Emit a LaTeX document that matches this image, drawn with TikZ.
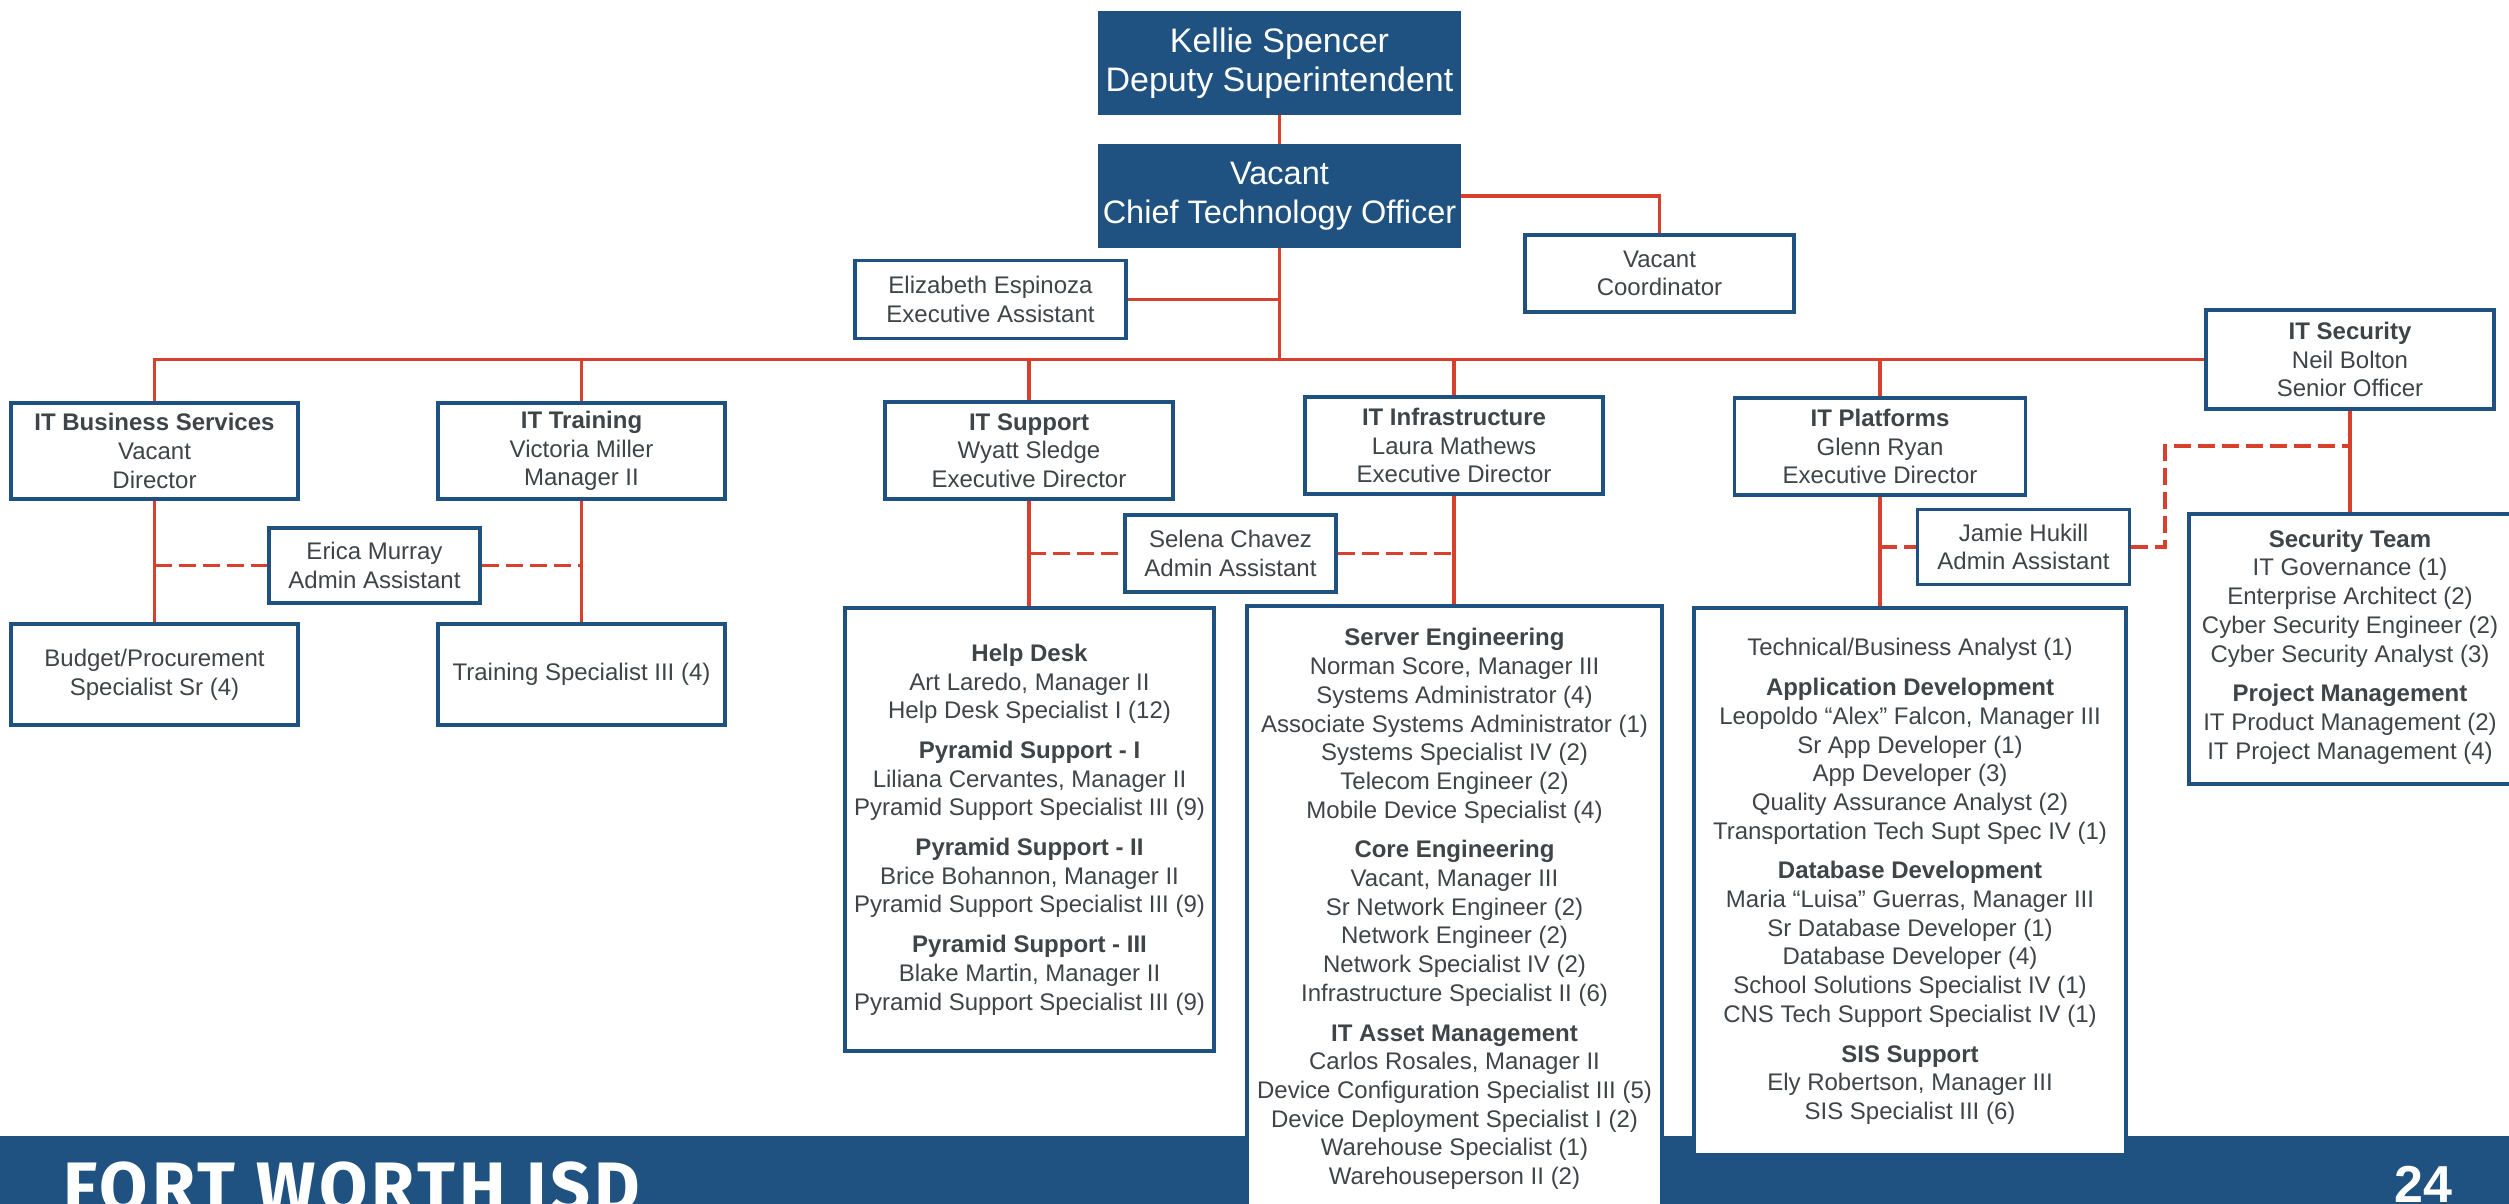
\documentclass[tikz,border=0pt]{standalone}
\usepackage{fontspec}
\setmainfont{Liberation Sans}
\newfontfamily\bannerfont{Fira Sans}[LetterSpace=5.6]
\usetikzlibrary{calc}
\definecolor{bblue}{RGB}{31,82,128}
\definecolor{lred}{RGB}{214,64,44}
\definecolor{tgray}{RGB}{62,68,72}
\tikzset{
  box/.style={draw=bblue, line width=3.5pt, fill=white, inner sep=0pt, align=center,
    text=tgray, font=\fontsize{24}{28.7}\selectfont},
  topbox/.style={fill=bblue, draw=none, inner sep=0pt, align=center, text=white,
    font=\fontsize{34}{39}\selectfont},
  link/.style={draw=lred, line width=3.8pt},
  dlink/.style={link, dash pattern=on 17pt off 7pt},
}
\newcommand{\gap}{\\[11pt]}
\begin{document}
\begin{tikzpicture}[x=1pt, y=-1pt]
\useasboundingbox (0,0) rectangle (2509,1203);
% banner
\fill[bblue] (0,1136) rectangle (2509,1215);
\node[anchor=north west, inner sep=0pt, text=white, font=\bannerfont\bfseries\fontsize{70}{70}\selectfont] (fw) at (63,1162) {FORT WORTH ISD};
\node[anchor=north west, inner sep=0pt, text=white, font=\bfseries\fontsize{52}{52}\selectfont] (pg) at (2394,1166) {24};

% top
\node[topbox, minimum width=363pt, minimum height=104pt] (kellie) at (1279.5,63) {Kellie Spencer\\Deputy Superintendent};
\node[topbox, minimum width=363pt, minimum height=104pt, font=\fontsize{32.5}{39}\selectfont] (cto) at (1279.5,196) {Vacant\\Chief Technology Officer};
\node[box, minimum width=269pt, minimum height=77pt] (coord) at (1659.5,273.5) {Vacant\\Coordinator};
\node[box, minimum width=271pt, minimum height=78pt] (eliz) at (990.5,299.5) {Elizabeth Espinoza\\Executive Assistant};

% heads
\node[box, minimum width=287pt, minimum height=96pt] (itbs) at (154.5,451) {\textbf{IT Business Services}\\Vacant\\Director};
\node[box, minimum width=287pt, minimum height=96pt] (ittr) at (581.5,451) {\textbf{IT Training}\\Victoria Miller\\Manager II};
\node[box, minimum width=288pt, minimum height=97pt] (itsup) at (1029,450.5) {\textbf{IT Support}\\Wyatt Sledge\\Executive Director};
\node[box, minimum width=298pt, minimum height=97pt] (itinf) at (1454,445.5) {\textbf{IT Infrastructure}\\Laura Mathews\\Executive Director};
\node[box, minimum width=291pt, minimum height=97pt] (itplat) at (1880,446.5) {\textbf{IT Platforms}\\Glenn Ryan\\Executive Director};
\node[box, minimum width=288pt, minimum height=99pt] (itsec) at (2350,359.5) {\textbf{IT Security}\\Neil Bolton\\Senior Officer};

% assistants
\node[box, minimum width=211pt, minimum height=75pt] (erica) at (374.5,565.5) {Erica Murray\\Admin Assistant};
\node[box, minimum width=211pt, minimum height=77pt] (selena) at (1230.5,553.5) {Selena Chavez\\Admin Assistant};
\node[box, minimum width=212pt, minimum height=75pt] (jamie) at (2023.5,547) {Jamie Hukill\\Admin Assistant};

% teams
\node[box, minimum width=287pt, minimum height=101pt] (budget) at (154.5,674.5) {Budget/Procurement\\Specialist Sr (4)};
\node[box, minimum width=287pt, minimum height=101pt] (trspec) at (581.5,674.5) {Training Specialist III (4)};
\node[box, minimum width=369pt, minimum height=443pt] (helpdesk) at (1029.5,829.5) {\textbf{Help Desk}\\Art Laredo, Manager II\\Help Desk Specialist I (12)\gap
\textbf{Pyramid Support - I}\\Liliana Cervantes, Manager II\\Pyramid Support Specialist III (9)\gap
\textbf{Pyramid Support - II}\\Brice Bohannon, Manager II\\Pyramid Support Specialist III (9)\gap
\textbf{Pyramid Support - III}\\Blake Martin, Manager II\\Pyramid Support Specialist III (9)};
\node[box, minimum width=415pt, minimum height=606pt] (infra) at (1454.5,909) {\textbf{Server Engineering}\\Norman Score, Manager III\\Systems Administrator (4)\\Associate Systems Administrator (1)\\Systems Specialist IV (2)\\Telecom Engineer (2)\\Mobile Device Specialist (4)\gap
\textbf{Core Engineering}\\Vacant, Manager III\\Sr Network Engineer (2)\\Network Engineer (2)\\Network Specialist IV (2)\\Infrastructure Specialist II (6)\gap
\textbf{IT Asset Management}\\Carlos Rosales, Manager II\\Device Configuration Specialist III (5)\\Device Deployment Specialist I (2)\\Warehouse Specialist (1)\\Warehouseperson II (2)};
\node[box, minimum width=432pt, minimum height=547pt] (platbox) at (1910,881.5) {Technical/Business Analyst (1)\gap
\textbf{Application Development}\\Leopoldo ``Alex'' Falcon, Manager III\\Sr App Developer (1)\\App Developer (3)\\Quality Assurance Analyst (2)\\Transportation Tech Supt Spec IV (1)\gap
\textbf{Database Development}\\Maria ``Luisa'' Guerras, Manager III\\Sr Database Developer (1)\\Database Developer (4)\\School Solutions Specialist IV (1)\\CNS Tech Support Specialist IV (1)\gap
\textbf{SIS Support}\\Ely Robertson, Manager III\\SIS Specialist III (6)};
\node[box, minimum width=330pt, minimum height=270pt, anchor=north west] (secteam) at (2187,512) {};
\node[align=center, text=tgray, font=\fontsize{24}{28.7}\selectfont, inner sep=0pt] (sectext) at (2350,647) {\textbf{Security Team}\\IT Governance (1)\\Enterprise Architect (2)\\Cyber Security Engineer (2)\\Cyber Security Analyst (3)\gap
\textbf{Project Management}\\IT Product Management (2)\\IT Project Management (4)};

% connectors
\coordinate (hub) at (1279.5,359);
\coordinate (secj) at (2350,446);
\draw[link] (kellie.south) -- (cto.north);
\draw[link] (cto.east) -| (coord.north);
\draw[link] (cto.south) -- (hub);
\draw[link] (eliz.east) -- (eliz.east -| hub);
\draw[link] (itbs.north) |- (itsec.west);
\draw[link] (ittr.north) -- (ittr.north |- hub);
\draw[link] (itsup.north) -- (itsup.north |- hub);
\draw[link] (itinf.north) -- (itinf.north |- hub);
\draw[link] (itplat.north) -- (itplat.north |- hub);
\draw[link] (itbs.south) -- (budget.north);
\draw[link] (ittr.south) -- (trspec.north);
\draw[link] (itsup.south) -- (itsup.south |- helpdesk.north);
\draw[link] (itinf.south) -- (itinf.south |- infra.north);
\draw[link] (itplat.south) -- (itplat.south |- platbox.north);
\draw[link] (itsec.south) -- (itsec.south |- secteam.north);
\draw[dlink] (itbs.south |- erica.west) -- (erica.west);
\draw[dlink] (erica.east) -- (erica.east -| ittr.south);
\draw[dlink] (itsup.south |- selena.west) -- (selena.west);
\draw[dlink] (selena.east) -- (selena.east -| itinf.south);
\draw[dlink] (itplat.south |- jamie.west) -- (jamie.west);
\draw[dlink] (jamie.east) -- ++(34,0) |- (secj);
\end{tikzpicture}
\end{document}
